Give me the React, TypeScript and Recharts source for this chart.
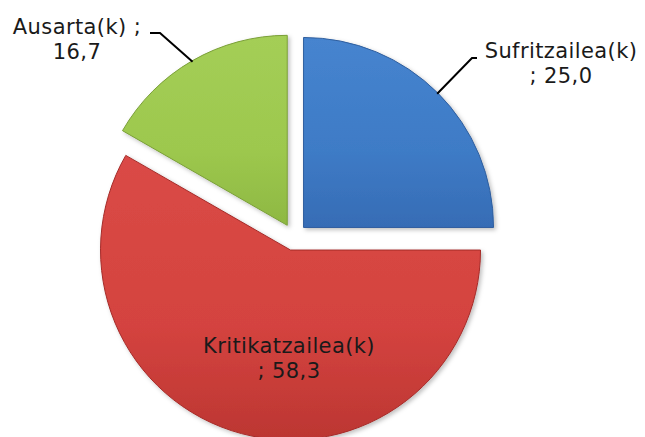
import React from 'react';
import { PieChart, Pie, Cell, Sector } from 'recharts';

const categories = ['Sufritzailea(k)', 'Kritikatzailea(k)', 'Ausarta(k)'];
const values = [25.0, 58.3, 16.7];
const valueLabels = ['25,0', '58,3', '16,7'];

const data = categories.map((name, i) => ({ name, value: values[i], label: valueLabels[i] }));

const gradients = [
  { id: 'gBlue', top: '#4684CF', mid: '#3E7BC6', bottom: '#366CB5', stroke: '#2F5E9E' },
  { id: 'gRed', top: '#DA4A46', mid: '#D4433F', bottom: '#BC3632', stroke: '#A52C29' },
  { id: 'gGreen', top: '#A4CE56', mid: '#9DC84E', bottom: '#8EB842', stroke: '#7A9F38' },
];

const EXPLODE = 13.5;
const RADIAN = Math.PI / 180;

const offsetOf = (midAngle: number) => ({
  dx: EXPLODE * Math.cos(-midAngle * RADIAN),
  dy: EXPLODE * Math.sin(-midAngle * RADIAN),
});

const renderShape = (props: any) => {
  const { cx, cy, midAngle, index } = props;
  const { dx, dy } = offsetOf(midAngle);
  const g = gradients[index % gradients.length];
  return (
    <Sector
      {...props}
      cx={cx + dx}
      cy={cy + dy}
      fill={`url(#${g.id})`}
      stroke={g.stroke}
      strokeWidth={1}
      filter="url(#shadow)"
    />
  );
};

// label layout (relative to pie centre): elbow of leader, end of leader, text centre
const labelLayout = [
  { elbow: [178, -179], end: [183, -179], text: [267, -179], inside: false },
  { elbow: [0, 0], end: [0, 0], text: [-5, 116], inside: true },
  { elbow: [-134, -204], end: [-144, -204], text: [-217, -203], inside: false },
];

const FONT = '"DejaVu Sans", Verdana, sans-serif';

const renderLabel = (props: any) => {
  const { cx, cy, midAngle, outerRadius, index } = props;
  const lay = labelLayout[index];
  const { dx, dy } = offsetOf(midAngle);
  const ax = cx + dx;
  const ay = cy + dy;
  const sx = ax + (outerRadius - 1) * Math.cos(-midAngle * RADIAN);
  const sy = ay + (outerRadius - 1) * Math.sin(-midAngle * RADIAN);
  const d = data[index];
  const tx = cx + lay.text[0];
  const ty = cy + lay.text[1];
  let line1 = '';
  let line2 = '';
  if (index === 2) {
    line1 = `${d.name} ;`;
    line2 = d.label;
  } else {
    line1 = d.name;
    line2 = `; ${d.label}`;
  }
  return (
    <g key={`lbl-${index}`}>
      {!lay.inside && (
        <polyline
          points={`${sx},${sy} ${cx + lay.elbow[0]},${cy + lay.elbow[1]} ${cx + lay.end[0]},${cy + lay.end[1]}`}
          fill="none"
          stroke="#000"
          strokeWidth={2}
        />
      )}
      <text
        x={tx}
        y={ty}
        textAnchor="middle"
        fontFamily={FONT}
        fontSize={21}
        letterSpacing={0.4}
        fill="#1a1a1a"
      >
        <tspan x={tx} y={ty}>{line1}</tspan>
        <tspan x={tx} y={ty + 25}>{line2}</tspan>
      </text>
    </g>
  );
};

export default function App() {
  return (
    <div style={{ position: 'absolute', left: 0, top: 0, width: 645, height: 437, background: '#fff' }}>
      <PieChart width={645} height={437} margin={{ top: 0, right: 0, bottom: 0, left: 0 }}>
        <defs>
          {gradients.map((g) => (
            <linearGradient key={g.id} id={g.id} x1="0" y1="0" x2="0" y2="1">
              <stop offset="0%" stopColor={g.top} />
              <stop offset="60%" stopColor={g.mid} />
              <stop offset="100%" stopColor={g.bottom} />
            </linearGradient>
          ))}
          <filter id="shadow" x="-10%" y="-10%" width="120%" height="120%">
            <feDropShadow dx="2" dy="2" stdDeviation="2" floodColor="#000" floodOpacity="0.25" />
          </filter>
        </defs>
        <Pie
          data={data}
          dataKey="value"
          nameKey="name"
          cx={294}
          cy={237}
          outerRadius={190}
          startAngle={90}
          endAngle={-270}
          isAnimationActive={false}
          shape={renderShape}
          label={renderLabel}
          labelLine={false}
          stroke="none"
        >
          {data.map((d, i) => (
            <Cell key={d.name} fill={`url(#${gradients[i].id})`} />
          ))}
        </Pie>
      </PieChart>
    </div>
  );
}
